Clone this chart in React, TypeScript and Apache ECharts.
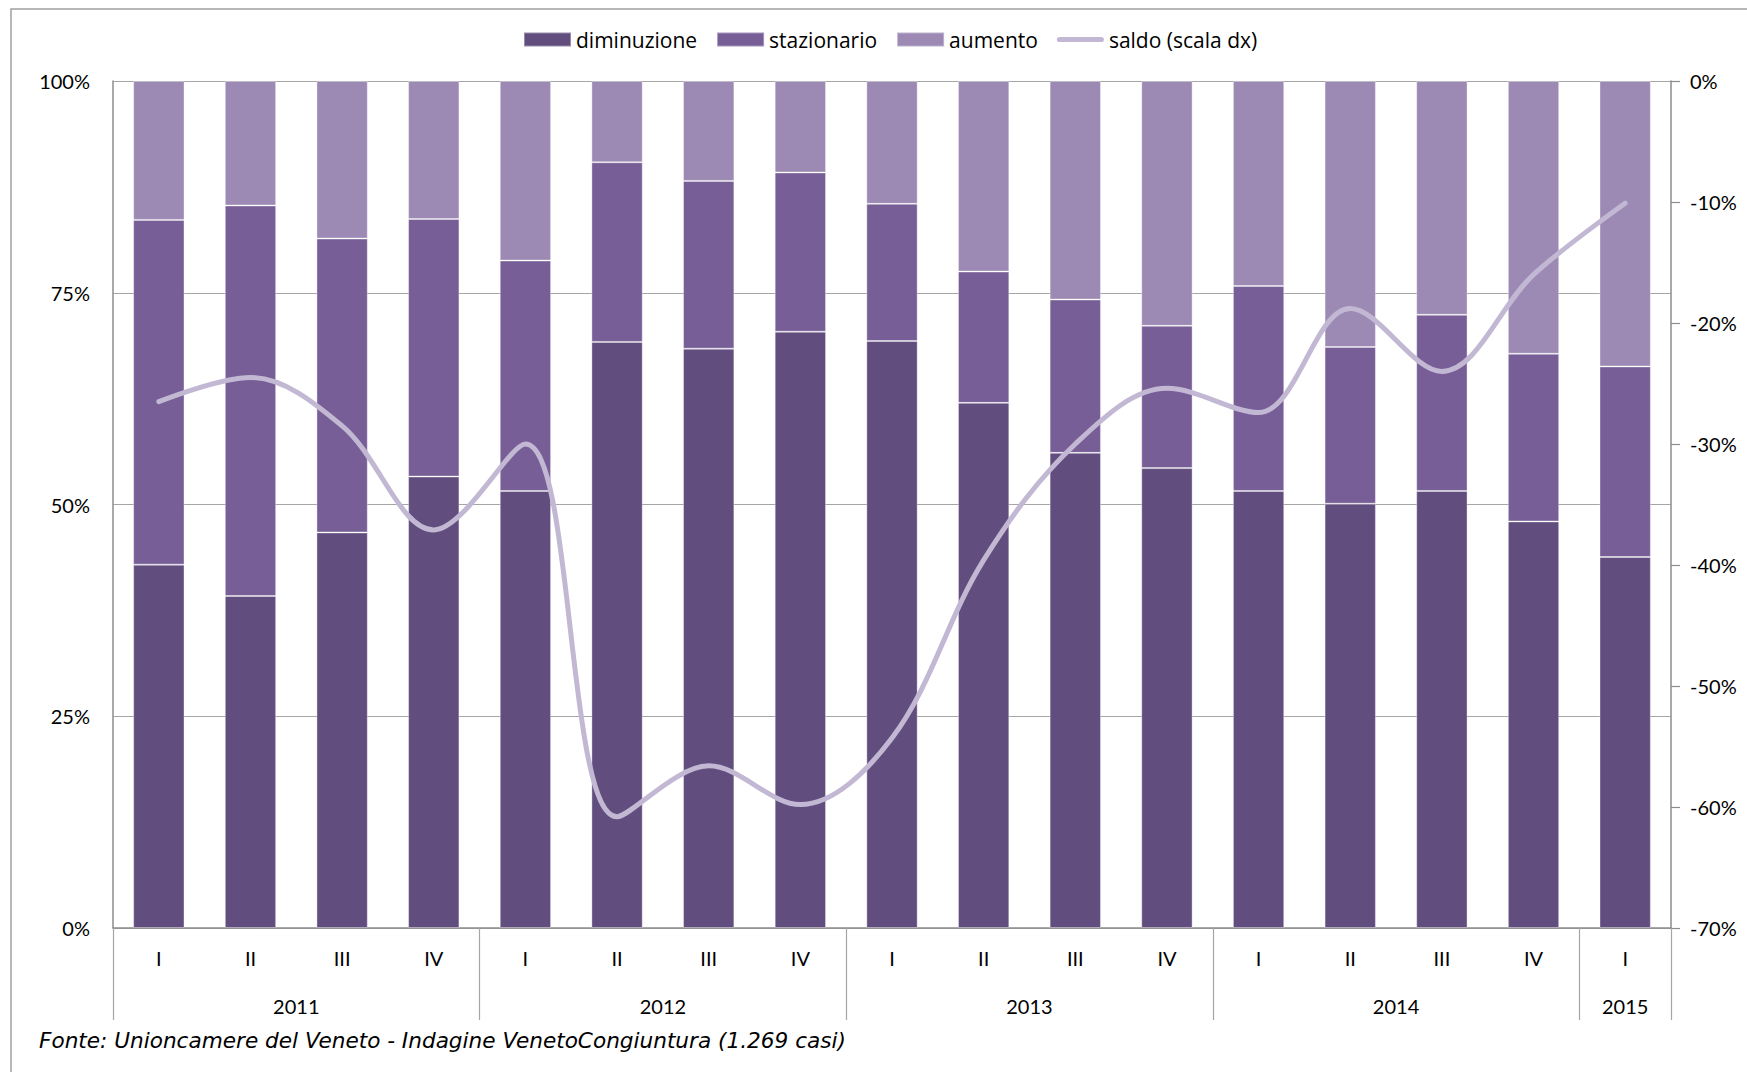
import React, { useEffect, useRef } from "react";
import * as echarts from "echarts";

const quarters = ["I", "II", "III", "IV", "I", "II", "III", "IV", "I", "II", "III", "IV", "I", "II", "III", "IV", "I"];
const yearNames = ["2011", "2012", "2013", "2014", "2015"];
const yearCounts = [4, 4, 4, 4, 1];

const diminuzione = [42.9, 39.2, 46.7, 53.3, 51.6, 69.2, 68.4, 70.4, 69.3, 62.0, 56.1, 54.3, 51.6, 50.1, 51.6, 48.0, 43.8];
const stazionario = [40.7, 46.1, 34.7, 30.4, 27.2, 21.2, 19.8, 18.8, 16.2, 15.5, 18.1, 16.8, 24.2, 18.5, 20.8, 19.8, 22.5];
const aumento = [16.4, 14.7, 18.6, 16.3, 21.2, 9.6, 11.8, 10.8, 14.5, 22.5, 25.8, 28.9, 24.2, 31.4, 27.6, 32.2, 33.7];
const saldo = [-26.5, -24.5, -28.5, -37.1, -30.0, -60.8, -56.6, -59.8, -54.3, -39.6, -30.0, -25.4, -27.4, -18.8, -24.0, -16.0, -10.1];

const leftTicks = { min: 0, max: 100, interval: 25 };
const rightTicks = { min: -70, max: 0, interval: 10 };

const FONT = "Lato";
const TEXT_FONT = "Open Sans";
const NOTE_FONT = "DejaVu Sans";
const GRID_COLOR = "#a6a6a6";
const AXIS_COLOR = "#8c8c8c";

export default function App() {
  const ref = useRef<HTMLDivElement>(null);

  useEffect(() => {
    document.body.style.margin = "0";
    if (!ref.current) return;
    const chart = echarts.init(ref.current, undefined, { renderer: "svg" });

    const yearCentres: number[] = [];
    let acc = 0;
    yearCounts.forEach((c) => {
      yearCentres.push(acc + c / 2);
      acc += c;
    });
    const total = quarters.length;

    const gridBox = { left: 113, right: 76, top: 81, bottom: 144, containLabel: false };

    const barCommon = {
      type: "bar",
      stack: "tot",
      barCategoryGap: "44%",
      xAxisIndex: 0,
      yAxisIndex: 0,
    };

    chart.setOption({
      animation: false,
      backgroundColor: "#ffffff",
      textStyle: { fontFamily: FONT },
      legend: {
        top: 24,
        left: 518,
        itemWidth: 47,
        itemHeight: 14,
        itemGap: 19,
        textStyle: { fontFamily: TEXT_FONT, fontSize: 21, color: "#000" },
        data: [
          { name: "diminuzione", icon: "rect" },
          { name: "stazionario", icon: "rect" },
          { name: "aumento", icon: "rect" },
          {
            name: "saldo (scala dx)",
            icon: "path://M2.5,0 H43.5 A2.5,2.5 0 0 1 43.5,5 H2.5 A2.5,2.5 0 0 1 2.5,0 Z",
            itemStyle: { color: "#c2b8d4" },
          },
        ],
      },
      grid: [gridBox, gridBox, gridBox],
      xAxis: [
        {
          type: "category",
          gridIndex: 0,
          data: quarters,
          position: "bottom",
          axisLine: { show: true, lineStyle: { color: AXIS_COLOR, width: 1.5 } },
          axisTick: { show: false },
          axisLabel: { interval: 0, margin: 20, fontSize: 20, color: "#000", fontFamily: FONT },
          splitLine: { show: false },
        },
        {
          type: "value",
          gridIndex: 1,
          min: 0,
          max: total,
          interval: 4,
          position: "bottom",
          axisLine: { show: false },
          axisTick: { show: true, length: 92, lineStyle: { color: GRID_COLOR, width: 1.2 } },
          axisLabel: { show: false },
          splitLine: { show: false },
        },
        {
          type: "value",
          gridIndex: 2,
          min: 0,
          max: total,
          interval: 0.5,
          position: "bottom",
          axisLine: { show: false },
          axisTick: { show: false },
          splitLine: { show: false },
          axisLabel: {
            show: true,
            margin: 68,
            fontSize: 20,
            color: "#000",
            fontFamily: FONT,
            showMinLabel: true,
            showMaxLabel: true,
            formatter: (v: number) => {
              const i = yearCentres.findIndex((c) => Math.abs(c - v) < 1e-6);
              return i >= 0 ? yearNames[i] : "";
            },
          },
        },
      ],
      yAxis: [
        {
          type: "value",
          gridIndex: 0,
          min: leftTicks.min,
          max: leftTicks.max,
          interval: leftTicks.interval,
          position: "left",
          axisLine: { show: true, lineStyle: { color: AXIS_COLOR, width: 1.5 } },
          axisTick: { show: false },
          axisLabel: { formatter: "{value}%", fontSize: 20, color: "#000", margin: 23, fontFamily: FONT },
          splitLine: { show: true, lineStyle: { color: GRID_COLOR, width: 1.2 } },
        },
        {
          type: "value",
          gridIndex: 0,
          min: rightTicks.min,
          max: rightTicks.max,
          interval: rightTicks.interval,
          position: "right",
          axisLine: { show: true, lineStyle: { color: AXIS_COLOR, width: 1.5 } },
          axisTick: { show: true, inside: false, length: 9, lineStyle: { color: AXIS_COLOR, width: 1.2 } },
          axisLabel: { formatter: "{value}%", fontSize: 20, color: "#000", margin: 19, fontFamily: FONT },
          splitLine: { show: false },
        },
        { type: "value", gridIndex: 1, show: false },
        { type: "value", gridIndex: 2, show: false },
      ],
      series: [
        {
          ...barCommon,
          name: "diminuzione",
          data: diminuzione,
          itemStyle: { color: "#624e7e", borderColor: "rgba(255,255,255,0.35)", borderWidth: 1 },
        },
        {
          ...barCommon,
          name: "stazionario",
          data: stazionario,
          itemStyle: { color: "#775e96", borderColor: "rgba(255,255,255,0.35)", borderWidth: 1 },
        },
        {
          ...barCommon,
          name: "aumento",
          data: aumento,
          itemStyle: { color: "#9c8ab4", borderColor: "rgba(255,255,255,0.35)", borderWidth: 1 },
        },
        {
          type: "line",
          name: "saldo (scala dx)",
          data: saldo,
          xAxisIndex: 0,
          yAxisIndex: 1,
          smooth: 0.35,
          symbol: "none",
          showSymbol: false,
          z: 5,
          itemStyle: { color: "#c2b8d4" },
          lineStyle: { color: "#c2b8d4", width: 5, cap: "round", join: "round" },
        },
      ],
      graphic: [
        {
          type: "rect",
          silent: true,
          shape: { x: 11, y: 9, width: 1800, height: 1200 },
          style: { fill: "none", stroke: "#a0a0a0", lineWidth: 1.5 },
          z: -1,
        },
        {
          type: "text",
          left: 39,
          top: 1029,
          style: {
            text: "Fonte: Unioncamere del Veneto - Indagine VenetoCongiuntura (1.269 casi)",
            font: `italic 21.6px '${NOTE_FONT}'`,
            fill: "#000",
          },
        },
      ],
    });

    return () => chart.dispose();
  }, []);

  return <div ref={ref} style={{ width: 1747, height: 1072 }} />;
}
